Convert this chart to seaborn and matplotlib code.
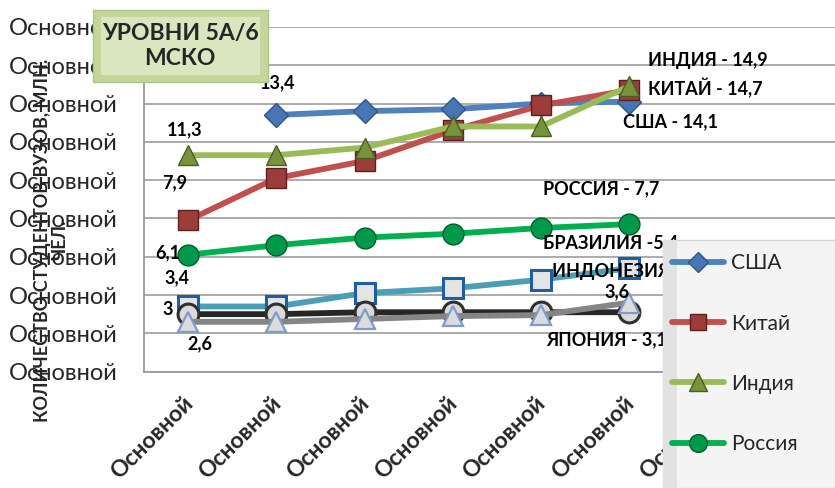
import numpy as np
import pandas as pd
import matplotlib
matplotlib.use("Agg")
import matplotlib.pyplot as plt
import matplotlib.transforms as mtransforms
from matplotlib.patches import Rectangle
import seaborn as sns

# --- data -------------------------------------------------------------
categories = ["Основной"] * 8
y_tick_labels = ["Основной"] * 10
y_ticks = [0, 2, 4, 6, 8, 10, 12, 14, 16, 18]

series_names = ["США", "Китай", "Индия", "Россия", "Бразилия", "Япония", "Индонезия"]
legend_names = ["США", "Китай", "Индия", "Россия"]
usa = [np.nan, 13.4, 13.6, 13.7, 14.0, 14.1]
china = [7.9, 10.1, 11.0, 12.6, 13.9, 14.7]
india = [11.3, 11.3, 11.7, 12.8, 12.8, 14.9]
russia = [6.1, 6.6, 7.0, 7.2, 7.5, 7.7]
brazil = [3.4, 3.4, 4.1, 4.35, 4.8, 5.4]
japan = [3.0, 3.0, 3.1, 3.1, 3.1, 3.1]
indonesia = [2.6, 2.6, 2.75, 2.9, 2.95, 3.6]

title_text = "УРОВНИ 5А/6\nМСКО"
y_label = "КОЛИЧЕСТВО СТУДЕНТОВ ВУЗОВ, МЛН.\nЧЕЛ."

# --- style ------------------------------------------------------------
sns.set_style("white")
plt.rcParams["font.family"] = ["Lato", "DejaVu Sans"]

styles = {
    "США":       dict(color="#4F81BD", marker="D", ms=12, mfc="#4677B4", mec="#2E5688", mew=1.0),
    "Китай":     dict(color="#C0504D", marker="s", ms=14, mfc="#9C3D3A", mec="#5E1F1D", mew=1.0),
    "Индия":     dict(color="#9BBB59", marker="^", ms=15, mfc="#77933C", mec="#4A5E22", mew=1.0),
    "Россия":    dict(color="#00B050", marker="o", ms=15, mfc="#00984A", mec="#005E2C", mew=1.0),
    "Бразилия":  dict(color="#4A9EB8", marker="s", ms=14, mfc="#E4E4E4", mec="#1F5FA0", mew=2.2),
    "Япония":    dict(color="#262626", marker="o", ms=15, mfc="#DADADA", mec="#303030", mew=2.2),
    "Индонезия": dict(color="#858585", marker="^", ms=15, mfc="#DCDCDC", mec="#7F9CC8", mew=1.6),
}
values = dict(zip(series_names, [usa, china, india, russia, brazil, japan, indonesia]))

W, H = 835, 488
fig = plt.figure(figsize=(W / 100, H / 100), dpi=100)
ax = fig.add_axes([144 / W, 1 - 371.6 / H, 705.6 / W, 344.7 / H])

for name in series_names:
    st = styles[name]
    df = pd.DataFrame({"x": range(len(values[name])), "y": values[name]})
    sns.lineplot(data=df, x="x", y="y", ax=ax, color=st["color"], linewidth=4.2,
                 marker=st["marker"], markersize=st["ms"], markerfacecolor=st["mfc"],
                 markeredgecolor=st["mec"], markeredgewidth=st["mew"], label=name,
                 legend=False, zorder=3)

# --- axes -------------------------------------------------------------
ax.set_xlim(-0.5, len(categories) - 0.5)
ax.set_ylim(y_ticks[0], y_ticks[-1])
ax.set_yticks(y_ticks)
ax.set_yticklabels(y_tick_labels, fontsize=17)
ax.set_xticks(range(len(categories)))
ax.set_xticklabels(categories, fontsize=16.5, fontweight="bold", rotation=45,
                   ha="right", va="top", rotation_mode="anchor")
ax.set_xticks(np.arange(-0.5, len(categories), 1.0), minor=True)
ax.tick_params(axis="x", which="major", length=0, pad=15)
ax.tick_params(axis="x", which="minor", length=6, width=1.3, color="#9A9A9A")
ax.tick_params(axis="y", length=7, width=1.3, color="#9A9A9A", pad=12)
shift = mtransforms.ScaledTranslation(-6 / 100, 0, fig.dpi_scale_trans)
for lab in ax.get_xticklabels():
    lab.set_transform(lab.get_transform() + shift)

ax.set_xlabel("")
ax.set_ylabel("")
ax.yaxis.grid(True, color="#ABABAB", linewidth=1.4)
ax.set_axisbelow(True)
for side in ["top", "right"]:
    ax.spines[side].set_visible(False)
for side in ["left", "bottom"]:
    ax.spines[side].set_color("#9A9A9A")
    ax.spines[side].set_linewidth(1.3)

# --- data labels ------------------------------------------------------
lab_kw = dict(textcoords="offset pixels", fontsize=13, fontweight="bold",
              color="black", va="center", zorder=6)

def note(name, idx, text, dx, dy, ha="center"):
    ax.annotate(text, (idx, values[name][idx]), xytext=(dx, dy), ha=ha, **lab_kw)

note("США", 1, "13,4", 1, 32)
note("Индия", 0, "11,3", -3, 25)
note("Китай", 0, "7,9", -13, 38)
note("Россия", 0, "6,1", -20, 2)
note("Бразилия", 0, "3,4", -11, 29)
note("Япония", 0, "3", -20, 5)
note("Индонезия", 0, "2,6", 12, -22)
note("Индия", 5, "ИНДИЯ - 14,9", 79, 26)
note("Китай", 5, "КИТАЙ - 14,7", 76, 2)
note("США", 5, "США - 14,1", 41, -20)
note("Россия", 5, "РОССИЯ - 7,7", -28, 35)
note("Бразилия", 5, "БРАЗИЛИЯ -5,4", -86, 25, ha="left")
note("Индонезия", 5, "ИНДОНЕЗИЯ -\n3,6", -12, 21)
note("Япония", 5, "ЯПОНИЯ - 3,1", -22, -28)

# --- y axis title -----------------------------------------------------
fig.text(51 / W, 1 - 240 / H, y_label, rotation=90, ha="center", va="center",
         multialignment="center", fontsize=13, fontweight="bold", linespacing=1.0)

# --- title box (bevelled) ---------------------------------------------
fig.add_artist(Rectangle((93 / W, 1 - 82 / H), 175 / W, 72 / H, transform=fig.transFigure,
                         facecolor="#C4D69C", edgecolor="#AFC484", linewidth=1.0, zorder=10))
fig.add_artist(Rectangle((101 / W, 1 - 75 / H), 159 / W, 58 / H, transform=fig.transFigure,
                         facecolor="#D9E6BF", edgecolor="none", zorder=10))
fig.text(180 / W, 1 - 46 / H, title_text, ha="center", va="center", fontsize=16.5,
         fontweight="bold", linespacing=1.25, zorder=11)

# --- legend -----------------------------------------------------------
fig.add_artist(Rectangle((663 / W, 0), (W - 663) / W, 1 - 240 / H, transform=fig.transFigure,
                         facecolor="#F4F4F4", edgecolor="#D4D4D4", linewidth=1.0, zorder=11))
fig.add_artist(Rectangle((663 / W, 0), 14 / W, 1 - 240 / H, transform=fig.transFigure,
                         facecolor="#E2E2E2", edgecolor="none", zorder=11))
handles, labels = ax.get_legend_handles_labels()
keep = [labels.index(n) for n in legend_names]
leg = fig.legend([handles[i] for i in keep], [labels[i] for i in keep], loc="upper left",
                 bbox_to_anchor=(663 / W, 1 - 244 / H), bbox_transform=fig.transFigure,
                 fontsize=15, frameon=False, borderaxespad=0, borderpad=0.45,
                 handlelength=2.5, handletextpad=0.3, labelspacing=1.93, markerscale=0.85)
leg.set_zorder(12)

fig.savefig("out.png", dpi=100)
